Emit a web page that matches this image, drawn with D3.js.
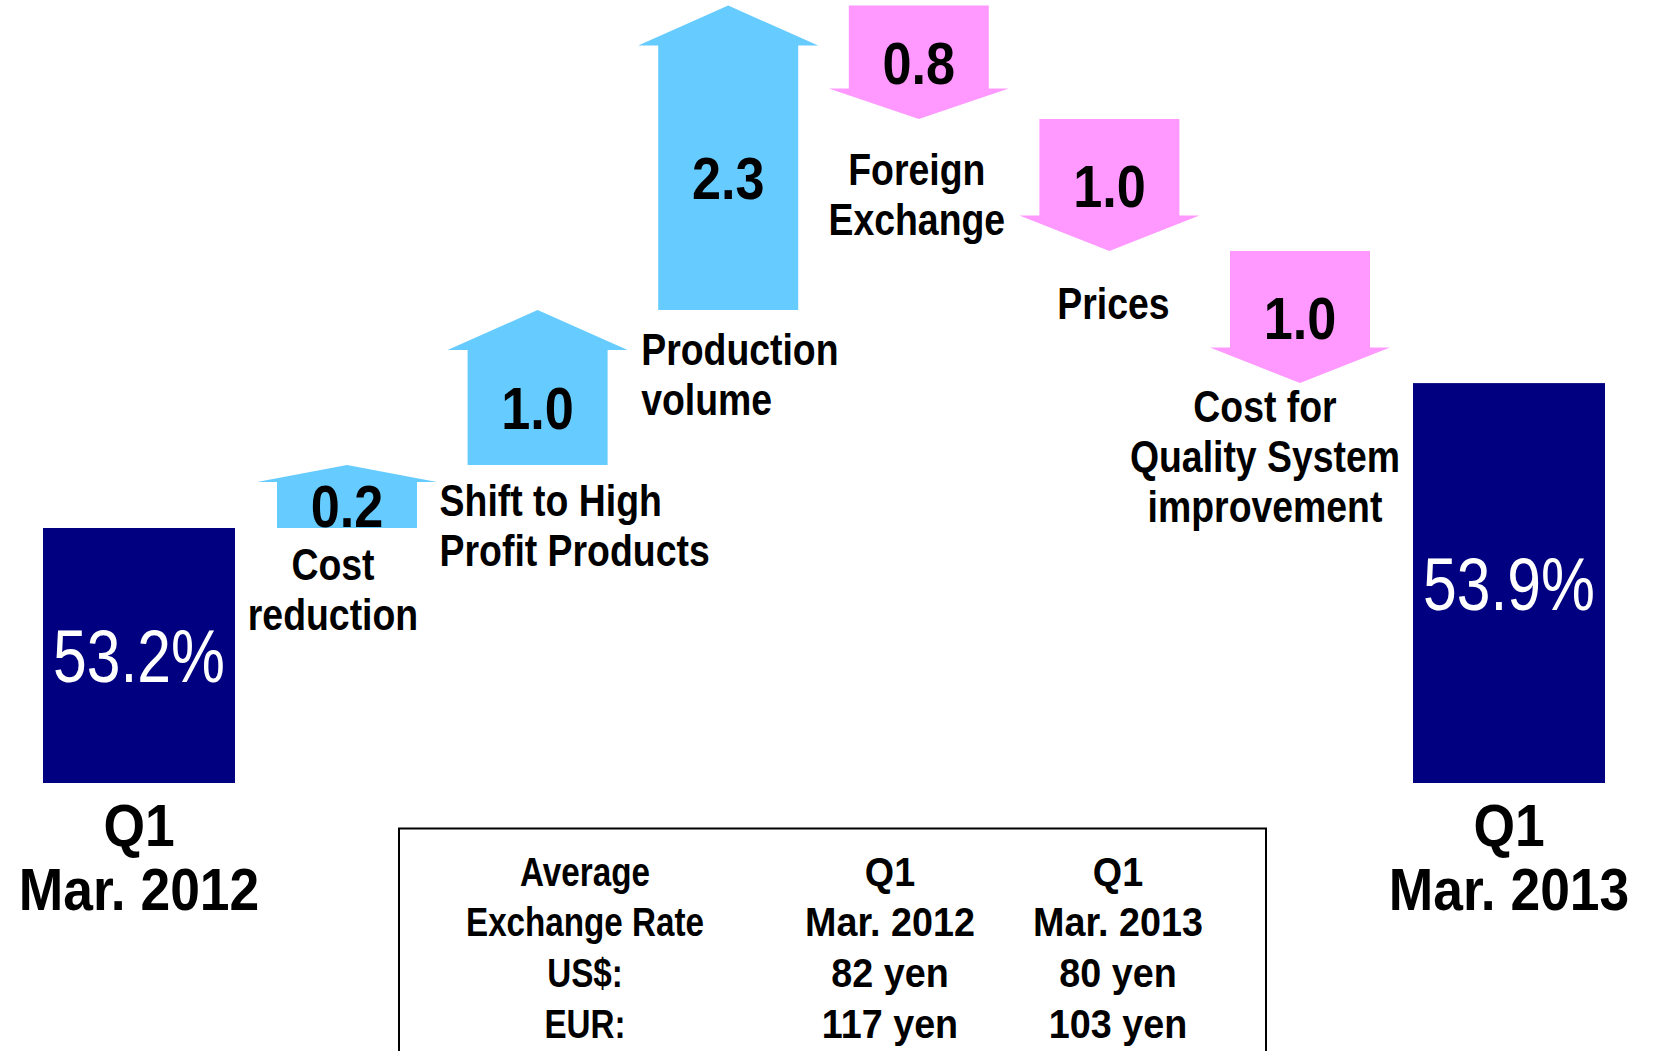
<!DOCTYPE html>
<html>
<head>
<meta charset="utf-8">
<script src="https://cdn.jsdelivr.net/npm/d3@7"></script>
<style>
  body { margin: 0; background: #fff; }
  svg { display: block; }
  text { font-family: "Liberation Sans", Arial, sans-serif; font-weight: bold; }
</style>
</head>
<body>
<svg width="1657" height="1051"></svg>
<script>
// ---- data ----
const startLabel = ["Q1", "Mar. 2012"];
const endLabel = ["Q1", "Mar. 2013"];
const startValue = 53.2;
const endValue = 53.9;
const factors = [
  ["Cost", "reduction"],
  ["Shift to High", "Profit Products"],
  ["Production", "volume"],
  ["Foreign", "Exchange"],
  ["Prices"],
  ["Cost for", "Quality System", "improvement"]
];
const changes = [0.2, 1.0, 2.3, -0.8, -1.0, -1.0];

const rateHeader = [["Average", "Exchange Rate"], ["Q1", "Mar. 2012"], ["Q1", "Mar. 2013"]];
const currencies = ["US$:", "EUR:"];
const rates2012 = [82, 117];
const rates2013 = [80, 103];

// ---- layout ----
const levelTop = 528, barBase = 783;
const barW = 192, bodyW = 140, wingW = 180;
const blue = "#66ccff", pink = "#ff99ff", navy = "#000080";

const factorNames = factors.map(d => d.join(" "));
const xBar = d3.scalePoint().domain(["start", "end"]).range([139, 1509]);
const xArrow = d3.scalePoint().domain(factorNames).range([347, 1300]);
// schematic chart: arrow length is not strictly proportional
const upLen = d3.scaleLinear().domain([0, 1]).range([40, 155]);
const downLen = d3.scaleLinear().domain([0, 1]).range([40, 132]);
const fmt = d3.format(".1f");

// per label placement (anchor, offsets from arrow centre / lower end)
const labelLayout = [
  { anchor: "middle", dx: -14, dy: 52 },
  { anchor: "start", dx: -98, dy: 51 },
  { anchor: "start", dx: -87, dy: 55 },
  { anchor: "middle", dx: -2, dy: 66 },
  { anchor: "middle", dx: 4, dy: 68 },
  { anchor: "middle", dx: -35, dy: 39 }
];

// the original uses a narrow gothic face, squeeze text horizontally
function squeeze(sel, k, fx, fy) {
  sel.attr("transform", d => `translate(${fx(d)},${fy(d)}) scale(${typeof k === "function" ? k(d) : k},1)`);
}
function multiline(sel, lines, lh) {
  sel.selectAll("tspan")
    .data(lines)
    .join("tspan")
    .attr("x", 0)
    .attr("y", (t, j) => j * lh)
    .text(t => t);
}

let level = levelTop;
const steps = changes.map((v, i) => {
  const len = v >= 0 ? upLen(v) : downLen(-v);
  const y0 = level, y1 = v >= 0 ? level - len : level + len;
  level = y1;
  return { v, i, name: factorNames[i], lines: factors[i], y0, y1,
    top: Math.min(y0, y1), bottom: Math.max(y0, y1), head: Math.min(40, 0.27 * len) };
});
const levelEnd = level;

const svg = d3.select("svg");

// bars
const bars = [
  { key: "start", value: startValue, top: levelTop, label: startLabel },
  { key: "end", value: endValue, top: levelEnd, label: endLabel }
];
svg.append("g").selectAll("rect")
  .data(bars)
  .join("rect")
  .attr("x", d => xBar(d.key) - barW / 2)
  .attr("y", d => d.top)
  .attr("width", barW)
  .attr("height", d => barBase - d.top)
  .attr("fill", navy);

svg.append("g").selectAll("text")
  .data(bars)
  .join("text")
  .call(squeeze, 0.82, d => xBar(d.key), d => (d.top + barBase) / 2)
  .attr("dy", "0.36em")
  .attr("text-anchor", "middle")
  .attr("fill", "#fff")
  .style("font-weight", "normal")
  .style("font-size", "74px")
  .text(d => fmt(d.value) + "%");

svg.append("g").selectAll("text")
  .data(bars)
  .join("text")
  .call(squeeze, 0.89, d => xBar(d.key), () => barBase + 63)
  .attr("text-anchor", "middle")
  .style("font-size", "60px")
  .each(function (d) { multiline(d3.select(this), d.label, 64); });

// arrows
function arrowPath(d) {
  const cx = xArrow(d.name), b = bodyW / 2, w = wingW / 2, h = d.head;
  const p = d3.path();
  if (d.v >= 0) {
    p.moveTo(cx - b, d.bottom);
    p.lineTo(cx - b, d.top + h);
    p.lineTo(cx - w, d.top + h);
    p.lineTo(cx, d.top);
    p.lineTo(cx + w, d.top + h);
    p.lineTo(cx + b, d.top + h);
    p.lineTo(cx + b, d.bottom);
  } else {
    p.moveTo(cx - b, d.top);
    p.lineTo(cx + b, d.top);
    p.lineTo(cx + b, d.bottom - h);
    p.lineTo(cx + w, d.bottom - h);
    p.lineTo(cx, d.bottom);
    p.lineTo(cx - w, d.bottom - h);
    p.lineTo(cx - b, d.bottom - h);
  }
  p.closePath();
  return p.toString();
}

svg.append("g").selectAll("path")
  .data(steps)
  .join("path")
  .attr("d", arrowPath)
  .attr("fill", d => d.v >= 0 ? blue : pink);

svg.append("g").selectAll("text")
  .data(steps)
  .join("text")
  .call(squeeze, 0.87, d => xArrow(d.name),
    d => d.v >= 0 ? (d.top + d.head + d.bottom) / 2 : (d.top + d.bottom) / 2)
  .attr("dy", "0.36em")
  .attr("text-anchor", "middle")
  .style("font-size", "60px")
  .text(d => fmt(Math.abs(d.v)));

svg.append("g").selectAll("text")
  .data(steps)
  .join("text")
  .call(squeeze, 0.85, d => xArrow(d.name) + labelLayout[d.i].dx, d => d.bottom + labelLayout[d.i].dy)
  .attr("text-anchor", d => labelLayout[d.i].anchor)
  .style("font-size", "44px")
  .each(function (d) { multiline(d3.select(this), d.lines, 50); });

// exchange rate table
const box = { x: 399, y: 828.5, w: 867 };
svg.append("rect")
  .attr("x", box.x).attr("y", box.y)
  .attr("width", box.w).attr("height", 260)
  .attr("fill", "none").attr("stroke", "#000").attr("stroke-width", 2);

const colX = d3.scaleOrdinal().domain([0, 1, 2]).range([585, 890, 1118]);
const rowY = d3.scalePoint().domain([0, 1, 2, 3]).range([885.6, 1037.8]);
const cells = [];
rateHeader.forEach((lines, c) => lines.forEach((t, r) => cells.push({ c, r, t })));
currencies.forEach((cur, k) => {
  cells.push({ c: 0, r: k + 2, t: cur });
  cells.push({ c: 1, r: k + 2, t: rates2012[k] + " yen" });
  cells.push({ c: 2, r: k + 2, t: rates2013[k] + " yen" });
});
svg.append("g").selectAll("text")
  .data(cells)
  .join("text")
  .call(squeeze, d => d.c === 0 ? 0.81 : 0.92, d => colX(d.c), d => rowY(d.r))
  .attr("text-anchor", "middle")
  .style("font-size", "41px")
  .text(d => d.t);
</script>
</body>
</html>
